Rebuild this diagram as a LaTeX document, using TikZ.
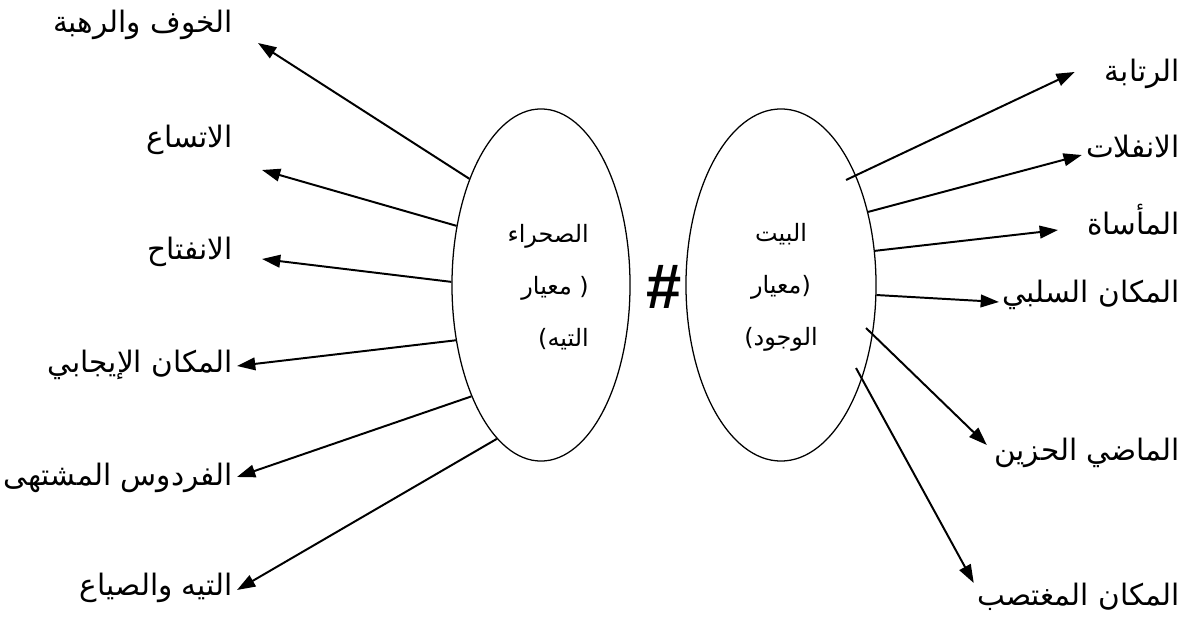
\documentclass[tikz,border=0pt]{standalone}
\usepackage{fontspec}
\usetikzlibrary{shapes.geometric,arrows.meta}
\TeXXeTstate=1
\newfontfamily\arabicfont[Script=Arabic]{DejaVu Sans}
\newfontfamily\hashfont{Liberation Sans}

\begin{document}
\begin{tikzpicture}[
    x=0.025cm, y=-0.025cm,
    pole/.style={ellipse, draw, line width=0.9pt, inner sep=0pt, minimum height=8.8cm},
    poletext/.style={font=\arabicfont\fontsize{17}{37}\selectfont, inner sep=0pt},
    lbl/.style={font=\arabicfont\fontsize{21}{21}\selectfont, inner sep=0pt},
    arrow/.style={-{Triangle[length=13pt, width=9pt]}, line width=1.4pt}
  ]
    \useasboundingbox (0,0) rectangle (1189,622);

    % the two poles
    \node[pole, minimum width=4.45cm] (desert) at (541,285) {};
    \node[pole, minimum width=4.75cm] (home) at (781,285) {};
    \node[poletext, align=right, anchor=east] (desert_txt) at (589,287)
      {\hbox{الصحراء}\\\hbox{معيار}\ \hbox{(}\\\hbox{)}\hbox{التيه}};
    \node[poletext, align=center] (home_txt) at (781,287)
      {\hbox{البيت}\\\hbox{معيار}\hbox{(}\\\hbox{)}\hbox{الوجود}};
    \node[font=\hashfont\bfseries\fontsize{45}{45}\selectfont] (neq) at (664,287) {\#};

    % left side
    \node[lbl, anchor=base east] (fear) at (233,33) {\beginR الخوف والرهبة\endR};
    \node[lbl, anchor=base east] (vast) at (233,148) {\beginR الاتساع\endR};
    \node[lbl, anchor=base east] (open) at (233,260) {\beginR الانفتاح\endR};
    \node[lbl, anchor=base east] (positive) at (233,372) {\beginR المكان الإيجابي\endR};
    \node[lbl, anchor=base east] (paradise) at (233,485) {\beginR الفردوس المشتهى\endR};
    \node[lbl, anchor=base east] (lost) at (233,595) {\beginR التيه والصياع\endR};

    \draw[arrow] (desert.124) -- ([shift={(25,10)}]fear.base east);
    \draw[arrow] (desert.145) -- ([shift={(29,22)}]vast.base east);
    \draw[arrow] (desert.178) -- ([shift={(29,-1)}]open.base east);
    \draw[arrow] (desert.213) -- ([shift={(4,-6)}]positive.base east);
    \draw[arrow] (desert.238) -- ([shift={(4,-8)}]paradise.base east);
    \draw[arrow] (desert.254) -- ([shift={(4,-5)}]lost.base east);

    % right side
    \node[lbl, anchor=base east] (routine) at (1180,82) {\beginR الرتابة\endR};
    \node[lbl, anchor=base east] (unruly) at (1180,158) {\beginR الانفلات\endR};
    \node[lbl, anchor=base east] (tragedy) at (1180,235) {\beginR المأساة\endR};
    \node[lbl, anchor=base east] (negative) at (1180,303) {\beginR المكان السلبي\endR};
    \node[lbl, anchor=base east] (past) at (1180,460) {\beginR الماضي الحزين\endR};
    \node[lbl, anchor=base east] (seized) at (1180,605) {\beginR المكان المغتصب\endR};

    \coordinate (home_a) at (846,180);
    \coordinate (home_e) at (866,328);
    \coordinate (home_f) at (856,368);

    \draw[arrow] (home_a) -- ([shift={(-30,-10)}]routine.base west);
    \draw[arrow] (home.40) -- ([shift={(-4,-3)}]unruly.base west);
    \draw[arrow] (home.20) -- ([shift={(-29,-5)}]tragedy.base west);
    \draw[arrow] (home.354) -- ([shift={(-3,-1)}]negative.base west);
    \draw[arrow] (home_e) -- ([shift={(-7,-15)}]past.base west);
    \draw[arrow] (home_f) -- ([shift={(-3,-22)}]seized.base west);
\end{tikzpicture}
\end{document}
